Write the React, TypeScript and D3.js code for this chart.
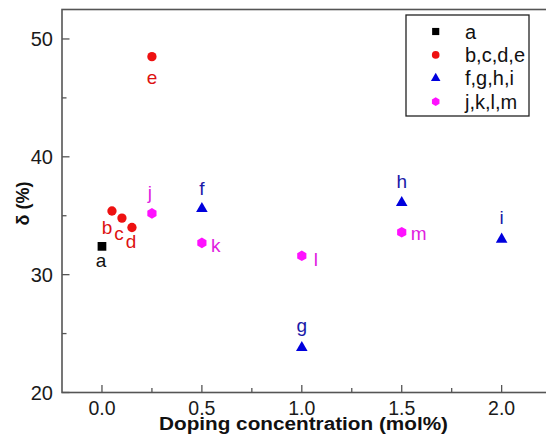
import React from "react";
import * as d3 from "d3";

// ---- data ----
const seriesNames = ["a", "b,c,d,e", "f,g,h,i", "j,k,l,m"];
const seriesColors = ["#000000", "#ee1111", "#0000dd", "#ff11ff"];
const labelColors = ["#111111", "#dd1111", "#1a1aa8", "#e020e0"];
const seriesShapes = ["square", "circle", "triangle", "hexagon"];

const pointLabels = ["a", "b", "c", "d", "e", "f", "g", "h", "i", "j", "k", "l", "m"];
const pointSeries = [0, 1, 1, 1, 1, 2, 2, 2, 2, 3, 3, 3, 3];
const pointX = [0, 0.05, 0.1, 0.15, 0.25, 0.5, 1.0, 1.5, 2.0, 0.25, 0.5, 1.0, 1.5];
const pointY = [32.4, 35.4, 34.8, 34.0, 48.5, 35.6, 23.8, 36.1, 33.0, 35.2, 32.7, 31.6, 33.6];
// label placement relative to marker (annotation layout, px)
const labelDx = [-1, -5, -3, -1, 0, 0, 0, 0, 0, -2, 9, 12, 9];
const labelDy = [21, 23, 22, 20, 27, -14, -16, -15, -15, -14, 9, 10, 8];
const labelAnchor = ["middle", "middle", "middle", "middle", "middle", "middle", "middle", "middle", "middle", "middle", "start", "start", "start"];

const xMajor = [0, 0.5, 1.0, 1.5, 2.0];
const xMinor = [0.25, 0.75, 1.25, 1.75];
const yMajor = [20, 30, 40, 50];
const yMinor = [25, 35, 45];

const xTitle = "Doping concentration (mol%)";
const yTitle = "δ (%)";

const W = 546;
const H = 441;
const FONT = "'Liberation Sans', Arial, sans-serif";
const AXIS = "#555555";

function hexPath(r: number) {
  const pts: [number, number][] = d3.range(6).map((i) => {
    const a = (Math.PI / 3) * i + Math.PI / 6;
    return [r * Math.cos(a), r * Math.sin(a)];
  });
  return "M" + pts.map((p) => p.join(",")).join("L") + "Z";
}

function markerPath(shape: string, scale = 1) {
  if (shape === "square") return d3.symbol(d3.symbolSquare, 76 * scale * scale)()!;
  if (shape === "circle") return d3.symbol(d3.symbolCircle, 68 * scale * scale)()!;
  if (shape === "triangle") return d3.symbol(d3.symbolTriangle, 58 * scale * scale)()!;
  return hexPath(5.3 * scale);
}

export default function App() {
  const x = d3.scaleLinear().domain([-0.2, 2.25]).range([62, 551.6]);
  const y = d3.scaleLinear().domain([20, 52.5]).range([392.5, 9.5]);
  const [x0, x1] = x.range();
  const [yb, yt] = y.range();

  const legendRowY = (i: number) => 31.5 + i * 23.4;

  return (
    <svg
      width={W}
      height={H}
      style={{ position: "absolute", left: 0, top: 0, background: "#fff" }}
      fontFamily={FONT}
    >
      <rect x={0} y={0} width={W} height={H} fill="#fff" />
      {/* frame */}
      <rect x={x0} y={yt} width={x1 - x0} height={yb - yt} fill="none" stroke={AXIS} strokeWidth={1.6} />

      {/* x ticks */}
      {xMajor.map((t) => (
        <g key={"xm" + t}>
          <line x1={x(t)} x2={x(t)} y1={yb} y2={yb - 7.5} stroke={AXIS} strokeWidth={1.3} />
          <text x={x(t)} y={414.5} textAnchor="middle" fontSize={19.5} fill="#1a1a1a">
            {d3.format(".1f")(t)}
          </text>
        </g>
      ))}
      {xMinor.map((t) => (
        <line key={"xn" + t} x1={x(t)} x2={x(t)} y1={yb} y2={yb - 4.5} stroke={AXIS} strokeWidth={1.3} />
      ))}
      {/* y ticks */}
      {yMajor.map((t) => (
        <g key={"ym" + t}>
          <line x1={x0} x2={x0 + 7.5} y1={y(t)} y2={y(t)} stroke={AXIS} strokeWidth={1.3} />
          <text x={53} y={y(t) + 7} textAnchor="end" fontSize={20} fill="#1a1a1a">
            {t}
          </text>
        </g>
      ))}
      {yMinor.map((t) => (
        <line key={"yn" + t} x1={x0} x2={x0 + 4.5} y1={y(t)} y2={y(t)} stroke={AXIS} strokeWidth={1.3} />
      ))}

      {/* axis titles */}
      <text
        x={303.5}
        y={429.5}
        textAnchor="middle"
        fontSize={18}
        fontWeight="bold"
        fill="#111"
        textLength={289}
        lengthAdjust="spacingAndGlyphs"
      >
        {xTitle}
      </text>
      <text
        transform={`translate(29,203.5) rotate(-90)`}
        textAnchor="middle"
        fontSize={18}
        fontWeight="bold"
        fill="#111"
      >
        {yTitle}
      </text>

      {/* points */}
      {pointLabels.map((lab, i) => {
        const s = pointSeries[i];
        const px = x(pointX[i]);
        const py = y(pointY[i]);
        return (
          <g key={"p" + lab}>
            <path d={markerPath(seriesShapes[s])} transform={`translate(${px},${py})`} fill={seriesColors[s]} />
            <text
              x={px + labelDx[i]}
              y={py + labelDy[i]}
              textAnchor={labelAnchor[i] as any}
              fontSize={19}
              fill={labelColors[s]}
            >
              {lab}
            </text>
          </g>
        );
      })}

      {/* legend */}
      <rect x={406} y={15} width={123} height={101} fill="#fff" stroke="#222" strokeWidth={1.3} />
      {seriesNames.map((n, i) => (
        <g key={"lg" + n}>
          <path
            d={markerPath(seriesShapes[i], 0.82)}
            transform={`translate(435.7,${legendRowY(i)})`}
            fill={seriesColors[i]}
          />
          <text x={465} y={legendRowY(i) + 7} fontSize={20} fill="#111">
            {n}
          </text>
        </g>
      ))}
    </svg>
  );
}
